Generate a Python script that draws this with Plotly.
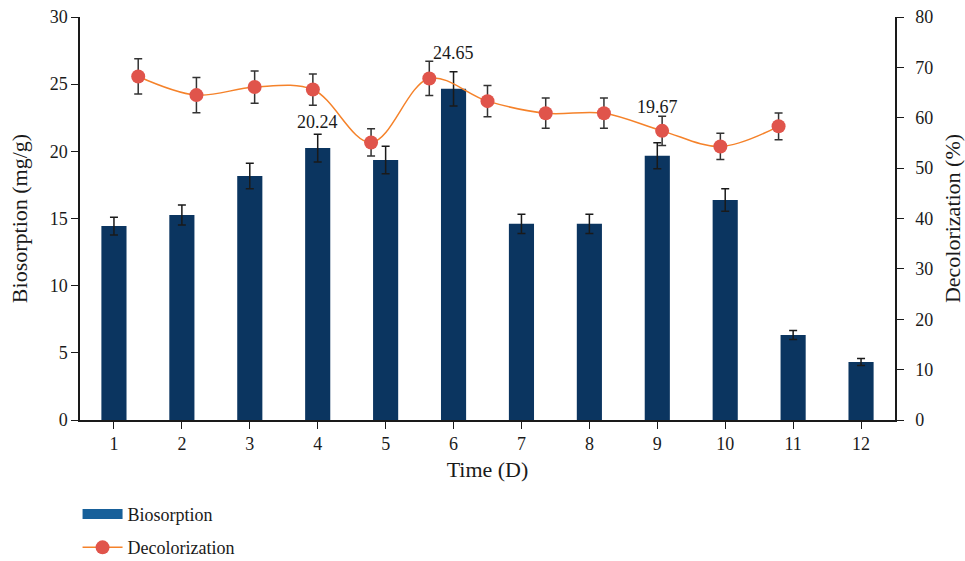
import plotly.graph_objects as go

days = [1, 2, 3, 4, 5, 6, 7, 8, 9, 10, 11, 12]
biosorption = [14.44, 15.26, 18.17, 20.24, 19.36, 24.65, 14.6, 14.6, 19.67, 16.38, 6.33, 4.32]
biosorption_err = [0.66, 0.74, 0.95, 1.03, 1.02, 1.27, 0.71, 0.72, 0.97, 0.84, 0.34, 0.26]
decolorization = [68.2, 64.5, 66.1, 65.6, 55.1, 67.8, 63.3, 60.9, 60.9, 57.4, 54.3, 58.3]
decolorization_err = [3.5, 3.5, 3.2, 3.1, 2.7, 3.4, 3.1, 3.0, 3.0, 2.9, 2.6, 2.65]
labels = {4: ("20.24", 26), 6: ("24.65", 36), 9: ("19.67", 49)}

FONT = "Liberation Serif, Times New Roman, serif"
TXT = "#1a1a1a"
fig = go.Figure()
fig.add_trace(go.Bar(
    x=days, y=biosorption, name="Biosorption", width=0.37, showlegend=False,
    marker=dict(color="#0b3560", line=dict(width=0)),
    error_y=dict(type="data", array=biosorption_err, color="#1a1a1a", thickness=1.5, width=4),
    xaxis="x", yaxis="y",
))
# legend entry for the bars (wide swatch as in the original)
fig.add_trace(go.Scatter(
    x=[None], y=[None], mode="lines", name="Biosorption", legendgroup="a",
    line=dict(color="#17609a", width=12), xaxis="x", yaxis="y",
))
fig.add_trace(go.Scatter(
    x=days, y=decolorization, name="Decolorization", mode="lines+markers", legendgroup="b",
    line=dict(color="#f5822a", width=1.5, shape="spline", smoothing=1),
    marker=dict(color="#e0544b", size=14),
    error_y=dict(type="data", array=decolorization_err, color="#333333", thickness=1.5, width=4),
    xaxis="x2", yaxis="y2",
))
for d, (txt, shift) in labels.items():
    fig.add_annotation(x=d, y=biosorption[days.index(d)], xref="x", yref="y", text=txt,
                       showarrow=False, yshift=shift)

axis_common = dict(showline=True, linecolor="#1a1a1a", linewidth=1.5, ticks="outside",
                   ticklen=7, tickcolor="#1a1a1a", showgrid=False, zeroline=False)
fig.update_layout(
    width=965, height=561, plot_bgcolor="white", paper_bgcolor="white",
    margin=dict(l=80, r=70, t=17, b=141, autoexpand=False),
    font=dict(family=FONT, size=18, color=TXT),
    xaxis=dict(range=[0.5, 12.5], tickvals=days, title=dict(text="Time (D)", standoff=8), **axis_common),
    xaxis2=dict(range=[0, 14], overlaying="x", visible=False, anchor="y2"),
    yaxis=dict(range=[0, 30], dtick=5, title=dict(text="Biosorption (mg/g)", standoff=16), **axis_common),
    yaxis2=dict(range=[0, 80], dtick=10, overlaying="y", side="right", anchor="x",
                ticklabelstandoff=8,
                title=dict(text="Decolorization (%)", standoff=14), **axis_common),
    legend=dict(x=-0.003, xref="paper", y=-0.188, yref="paper",
                yanchor="top", xanchor="left", traceorder="grouped",
                tracegroupgap=7, itemwidth=40),
    showlegend=True,
    bargap=0.6,
)
fig.write_html("out.html")
